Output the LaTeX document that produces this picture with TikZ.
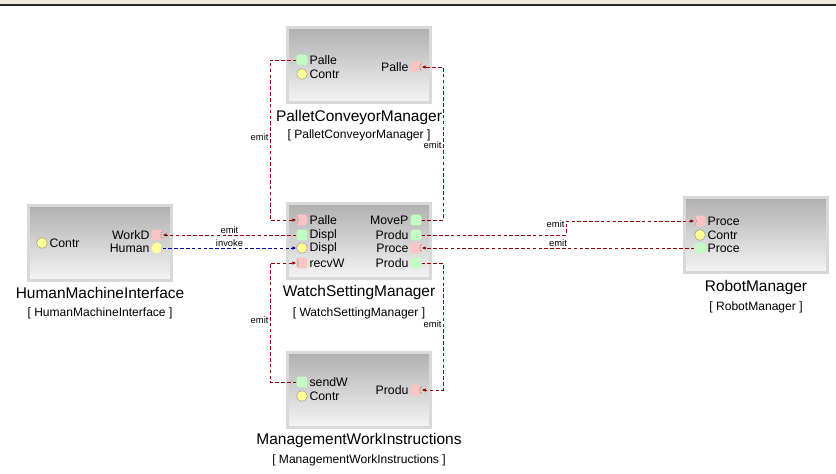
\documentclass[tikz,border=0pt]{standalone}
\usepackage{fontspec}
\setmainfont{Liberation Sans}
\usetikzlibrary{arrows.meta}
\definecolor{emitc}{RGB}{150,0,0}
\definecolor{invc}{RGB}{0,0,170}
\definecolor{inpc}{RGB}{250,196,196}
\definecolor{outpc}{RGB}{196,250,196}
\definecolor{srvc}{RGB}{255,255,150}
\definecolor{stripc}{RGB}{239,235,221}
\begin{document}
\begin{tikzpicture}[x=0.03cm, y=-0.03cm, >={Latex[length=3.5pt,width=3pt]},
comp/.style={rectangle, minimum width=4.29cm, minimum height=2.25cm, top color=gray!62, bottom color=gray!8, draw=gray!30, line width=3pt},
port/.style={rectangle, minimum size=0.32cm, inner sep=0pt, rounded corners=1.5pt},
outp/.style={port, fill=outpc},
inL/.style={port, fill=inpc, path picture={\fill[gray!40] ([xshift=-1pt]path picture bounding box.west) ellipse (2.4pt and 3.6pt); \draw[emitc, densely dotted, line width=0.4pt] ([xshift=-1pt]path picture bounding box.west) ellipse (2.4pt and 3.6pt);}},
inR/.style={port, fill=inpc, path picture={\fill[gray!40] ([xshift=1pt]path picture bounding box.east) ellipse (2.4pt and 3.6pt); \draw[emitc, densely dotted, line width=0.4pt] ([xshift=1pt]path picture bounding box.east) ellipse (2.4pt and 3.6pt);}},
srv/.style={circle, minimum size=0.32cm, inner sep=0pt, fill=srvc, draw=black!50, line width=0.3pt},
req/.style={circle, minimum size=0.32cm, inner sep=0pt, fill=srvc, path picture={\fill[gray!40] ([xshift=1.5pt]path picture bounding box.east) ellipse (2.8pt and 4pt);}},
lab/.style={font=\fontsize{10.5}{12}\selectfont, inner sep=1.5pt},
ttl/.style={font=\fontsize{13.2}{16}\selectfont},
brk/.style={font=\fontsize{10.3}{12}\selectfont},
lbl/.style={font=\fontsize{8}{9}\selectfont, inner sep=1pt, text=black},
emit/.style={color=emitc, dash pattern=on 3pt off 2pt, ->, line width=0.65pt},
invoke/.style={color=invc, dash pattern=on 3pt off 2pt, ->, line width=0.65pt}]
\useasboundingbox (0,0) rectangle (836,473);
\fill[white] (0,0) rectangle (836,473);
\fill[stripc] (0,0) rectangle (836,4);
\fill[black!85] (0,4) rectangle (836,6);

\node[comp] (pcm) at (359,65) {};
\node[comp] (wsm) at (359,241) {};
\node[comp] (mwi) at (359,390) {};
\node[comp] (hmi) at (100,243) {};
\node[comp] (rm) at (756,235) {};

\node[ttl] (pcm-name) at (359,117) {PalletConveyorManager};
\node[brk] (pcm-type) at (359,135) {[ PalletConveyorManager ]};
\node[ttl] (wsm-name) at (359,292) {WatchSettingManager};
\node[brk] (wsm-type) at (359,313) {[ WatchSettingManager ]};
\node[ttl] (hmi-name) at (100,293) {HumanMachineInterface};
\node[brk] (hmi-type) at (100,313) {[ HumanMachineInterface ]};
\node[ttl] (rm-name) at (756,287) {RobotManager};
\node[brk] (rm-type) at (756,307) {[ RobotManager ]};
\node[ttl] (mwi-name) at (359,440) {ManagementWorkInstructions};
\node[brk] (mwi-type) at (359,460) {[ ManagementWorkInstructions ]};

\node[outp, label={[lab]right:Palle}] (pcm-po) at (302,60) {};
\node[srv, label={[lab]right:Contr}] (pcm-c) at (302,74) {};
\node[inR, label={[lab]left:Palle}] (pcm-pi) at (416,67) {};

\node[inL, label={[lab]right:Palle}] (wsm-pi) at (302,220) {};
\node[outp, label={[lab]right:Displ}] (wsm-do) at (302,235) {};
\node[srv, label={[lab]right:Displ}] (wsm-di) at (302,248) {};
\node[inL, label={[lab]right:recvW}] (wsm-ri) at (302,263) {};
\node[outp, label={[lab]left:MoveP}] (wsm-mo) at (416,220) {};
\node[outp, label={[lab]left:Produ}] (wsm-po1) at (416,235) {};
\node[inR, label={[lab]left:Proce}] (wsm-ci) at (416,248) {};
\node[outp, label={[lab]left:Produ}] (wsm-po2) at (416,263) {};

\node[srv, label={[lab]right:Contr}] (hmi-c) at (42,243) {};
\node[inR, label={[lab]left:WorkD}] (hmi-wi) at (157,235) {};
\node[req, label={[lab]left:Human}] (hmi-hr) at (157,248) {};

\node[inL, label={[lab]right:Proce}] (rm-pi) at (700,221) {};
\node[srv, label={[lab]right:Contr}] (rm-c) at (700,235) {};
\node[outp, label={[lab]right:Proce}] (rm-po) at (700,248) {};

\node[outp, label={[lab]right:sendW}] (mwi-so) at (302,382) {};
\node[srv, label={[lab]right:Contr}] (mwi-c) at (302,396) {};
\node[inR, label={[lab]left:Produ}] (mwi-pi) at (416,390) {};

\draw[emit] (pcm-po) -- ++(-32,0) |- node[lbl, left, pos=0.24] {emit} (wsm-pi);
\draw[emit] (wsm-mo) -- ++(27,0) |- node[lbl, left, pos=0.245] {emit} (pcm-pi);
\draw[emit] (wsm-do) -- node[lbl, above] {emit} (hmi-wi);
\draw[invoke] (hmi-hr) -- node[lbl, above] {invoke} (wsm-di);
\draw[emit] (mwi-so) -- ++(-32,0) |- node[lbl, left, pos=0.26] {emit} (wsm-ri);
\draw[emit] (wsm-po2) -- ++(27,0) |- node[lbl, left, pos=0.24] {emit} (mwi-pi);
\draw[emit] (wsm-po1) -- ++(150,0) |- node[lbl, left, pos=0.4] {emit} (rm-pi);
\draw[emit] (rm-po) -- node[lbl, above] {emit} (wsm-ci);
\end{tikzpicture}
\end{document}
